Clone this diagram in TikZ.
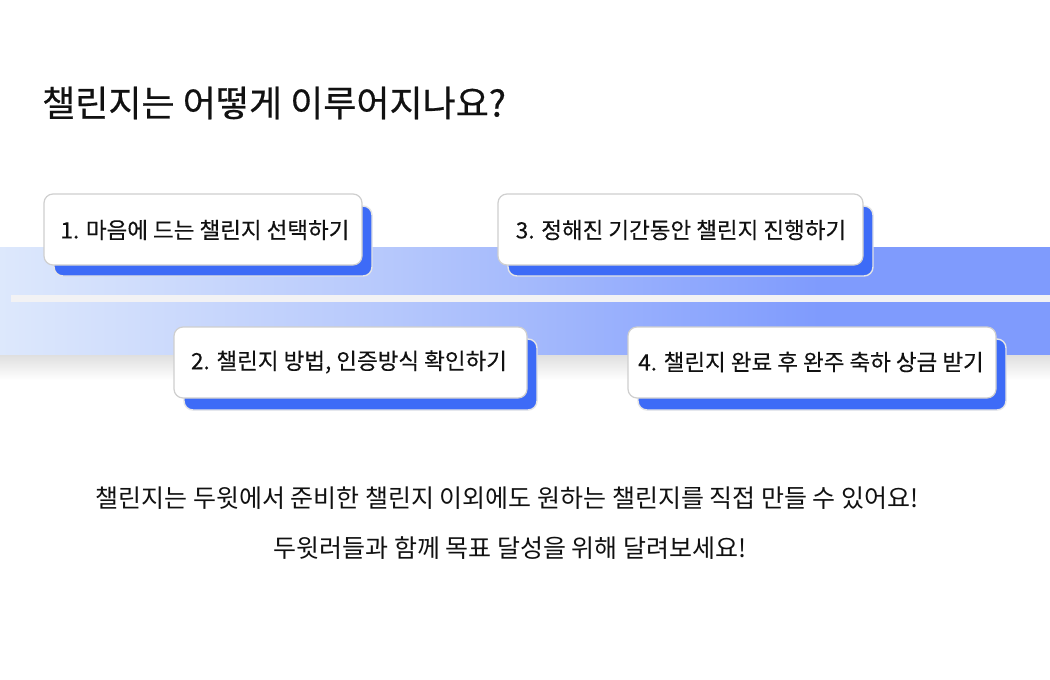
\documentclass[tikz,border=0pt]{standalone}
\usepackage{fontspec}
\setmainfont{Noto Sans CJK KR}
\newfontfamily\medfont[AutoFakeBold=0.5]{Noto Sans CJK KR}
\newfontfamily\cardfont[AutoFakeBold=0.25]{Noto Sans CJK KR}
\usetikzlibrary{positioning}
\definecolor{bandA}{HTML}{DDE8FC}
\definecolor{bandB}{HTML}{B6C8FC}
\definecolor{bandC}{HTML}{7F9BFD}
\definecolor{cardblue}{HTML}{3D6BF7}
\definecolor{cardedge}{HTML}{CFCFCF}
\definecolor{stripe}{HTML}{F2F2F4}
\definecolor{ink}{HTML}{111111}
\pgfdeclarehorizontalshading{bandshade}{100bp}{color(0bp)=(bandA); color(25bp)=(bandA); color(43.5bp)=(bandB); color(64bp)=(bandC); color(100bp)=(bandC)}
\begin{document}
\begin{tikzpicture}[x=1pt,y=-1pt,
  cardback/.style={fill=cardblue,draw=black!10,line width=1.4pt,rounded corners=9pt},
  cardfront/.style={fill=white,draw=cardedge,line width=1.2pt,rounded corners=9pt},
  cardtext/.style={text=ink,font=\cardfont\bfseries\fontsize{22.5}{26}\selectfont,inner sep=0pt},
  bodytext/.style={text=ink,font=\fontsize{25}{30}\selectfont,inner sep=0pt}]
\useasboundingbox[fill=white] (0,0) rectangle (1050,680);
% title
\node[anchor=west,text=ink,font=\medfont\bfseries\fontsize{36}{40}\selectfont,inner sep=0pt] (title) at (42,103) {챌린지는 어떻게 이루어지나요?};
% band shadow
\shade[top color=black!13,bottom color=white] (0,354) rectangle (1050,380);
% band
\shade[shading=bandshade] (0,247) rectangle (1050,354);
\fill[stripe] (11,295) rectangle (1050,302);
% cards
\draw[cardback] (54,206) rectangle (372,276);
\draw[cardfront] (44,194) rectangle (362,265);
\node[cardtext] (c1) at (205,230) {1. 마음에 드는 챌린지 선택하기};
\draw[cardback] (508,206) rectangle (873,276);
\draw[cardfront] (498,194) rectangle (863,265);
\node[cardtext] (c3) at (681,230) {3. 정해진 기간동안 챌린지 진행하기};
\draw[cardback] (184,339) rectangle (537,410);
\draw[cardfront] (174,327) rectangle (527,398);
\node[cardtext] (c2) at (349,362) {2. 챌린지 방법, 인증방식 확인하기};
\draw[cardback] (638,339) rectangle (1006,410);
\draw[cardfront] (628,327) rectangle (996,398);
\node[cardtext] (c4) at (811,362) {4. 챌린지 완료 후 완주 축하 상금 받기};
% body
\node[bodytext] (b1) at (507,498) {챌린지는 두윗에서 준비한 챌린지 이외에도 원하는 챌린지를 직접 만들 수 있어요!};
\node[bodytext] (b2) at (510,548) {두윗러들과 함께 목표 달성을 위해 달려보세요!};
\end{tikzpicture}
\end{document}
